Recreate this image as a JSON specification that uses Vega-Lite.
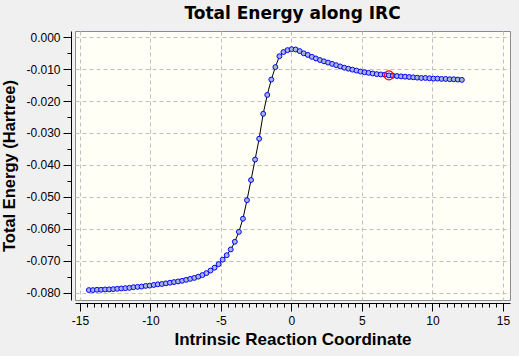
{
  "$schema": "https://vega.github.io/schema/vega-lite/v6.json",
  "width": 435,
  "height": 269,
  "autosize": {"type": "none"},
  "padding": {"left": 75, "top": 31, "right": 9, "bottom": 56},
  "background": "#f0f0f0",
  "title": {"text": "Total Energy along IRC", "font": "DejaVu Sans", "fontSize": 17, "fontWeight": "bold", "color": "#000000", "anchor": "middle", "baseline": "alphabetic", "offset": 12, "dy": 17},
  "config": {"view": {"fill": "#fffff6", "stroke": "#8a8a96", "strokeWidth": 1}},
  "data": {"values": [
    {"irc": -14.365, "energy": -0.0791},
    {"irc": -14.078, "energy": -0.0791},
    {"irc": -13.79, "energy": -0.0790},
    {"irc": -13.503, "energy": -0.0790},
    {"irc": -13.215, "energy": -0.0789},
    {"irc": -12.928, "energy": -0.0789},
    {"irc": -12.64, "energy": -0.0788},
    {"irc": -12.353, "energy": -0.0787},
    {"irc": -12.065, "energy": -0.0786},
    {"irc": -11.778, "energy": -0.0785},
    {"irc": -11.49, "energy": -0.0784},
    {"irc": -11.203, "energy": -0.0782},
    {"irc": -10.915, "energy": -0.0781},
    {"irc": -10.628, "energy": -0.0780},
    {"irc": -10.34, "energy": -0.0778},
    {"irc": -10.053, "energy": -0.0777},
    {"irc": -9.765, "energy": -0.0775},
    {"irc": -9.478, "energy": -0.0773},
    {"irc": -9.19, "energy": -0.0772},
    {"irc": -8.903, "energy": -0.0770},
    {"irc": -8.615, "energy": -0.0768},
    {"irc": -8.328, "energy": -0.0766},
    {"irc": -8.04, "energy": -0.0764},
    {"irc": -7.753, "energy": -0.0762},
    {"irc": -7.465, "energy": -0.0759},
    {"irc": -7.178, "energy": -0.0756},
    {"irc": -6.89, "energy": -0.0753},
    {"irc": -6.603, "energy": -0.0749},
    {"irc": -6.315, "energy": -0.0744},
    {"irc": -6.028, "energy": -0.0738},
    {"irc": -5.74, "energy": -0.0730},
    {"irc": -5.453, "energy": -0.0721},
    {"irc": -5.165, "energy": -0.0710},
    {"irc": -4.878, "energy": -0.0696},
    {"irc": -4.59, "energy": -0.0682},
    {"irc": -4.303, "energy": -0.0664},
    {"irc": -4.015, "energy": -0.0640},
    {"irc": -3.728, "energy": -0.0609},
    {"irc": -3.44, "energy": -0.0568},
    {"irc": -3.153, "energy": -0.0510},
    {"irc": -2.865, "energy": -0.0447},
    {"irc": -2.578, "energy": -0.0383},
    {"irc": -2.29, "energy": -0.0318},
    {"irc": -2.003, "energy": -0.0240},
    {"irc": -1.715, "energy": -0.0181},
    {"irc": -1.428, "energy": -0.0133},
    {"irc": -1.14, "energy": -0.0094},
    {"irc": -0.853, "energy": -0.0060},
    {"irc": -0.565, "energy": -0.0047},
    {"irc": -0.278, "energy": -0.0041},
    {"irc": 0.01, "energy": -0.0038},
    {"irc": 0.298, "energy": -0.0039},
    {"irc": 0.585, "energy": -0.0044},
    {"irc": 0.873, "energy": -0.0051},
    {"irc": 1.16, "energy": -0.0056},
    {"irc": 1.448, "energy": -0.0062},
    {"irc": 1.735, "energy": -0.0067},
    {"irc": 2.023, "energy": -0.0072},
    {"irc": 2.31, "energy": -0.0076},
    {"irc": 2.598, "energy": -0.0080},
    {"irc": 2.885, "energy": -0.0084},
    {"irc": 3.173, "energy": -0.0088},
    {"irc": 3.46, "energy": -0.0092},
    {"irc": 3.748, "energy": -0.0096},
    {"irc": 4.035, "energy": -0.0099},
    {"irc": 4.323, "energy": -0.0102},
    {"irc": 4.61, "energy": -0.0105},
    {"irc": 4.898, "energy": -0.0108},
    {"irc": 5.185, "energy": -0.0110},
    {"irc": 5.473, "energy": -0.0112},
    {"irc": 5.76, "energy": -0.0114},
    {"irc": 6.048, "energy": -0.0116},
    {"irc": 6.335, "energy": -0.0117},
    {"irc": 6.623, "energy": -0.0118},
    {"irc": 6.91, "energy": -0.0120, "current": true},
    {"irc": 7.198, "energy": -0.0121},
    {"irc": 7.485, "energy": -0.0122},
    {"irc": 7.773, "energy": -0.0123},
    {"irc": 8.06, "energy": -0.0124},
    {"irc": 8.348, "energy": -0.0125},
    {"irc": 8.635, "energy": -0.0126},
    {"irc": 8.923, "energy": -0.0127},
    {"irc": 9.21, "energy": -0.0128},
    {"irc": 9.498, "energy": -0.0128},
    {"irc": 9.785, "energy": -0.0129},
    {"irc": 10.073, "energy": -0.0130},
    {"irc": 10.36, "energy": -0.0130},
    {"irc": 10.648, "energy": -0.0131},
    {"irc": 10.935, "energy": -0.0131},
    {"irc": 11.223, "energy": -0.0132},
    {"irc": 11.51, "energy": -0.0132},
    {"irc": 11.798, "energy": -0.0133},
    {"irc": 12.085, "energy": -0.0134}
  ]},
  "encoding": {
    "x": {
      "field": "irc", "type": "quantitative",
      "scale": {"domain": [-15.35, 15.5], "nice": false, "zero": false},
      "axis": {
        "title": "Intrinsic Reaction Coordinate",
        "values": [-15,-14.5,-14,-13.5,-13,-12.5,-12,-11.5,-11,-10.5,-10,-9.5,-9,-8.5,-8,-7.5,-7,-6.5,-6,-5.5,-5,-4.5,-4,-3.5,-3,-2.5,-2,-1.5,-1,-0.5,0,0.5,1,1.5,2,2.5,3,3.5,4,4.5,5,5.5,6,6.5,7,7.5,8,8.5,9,9.5,10,10.5,11,11.5,12,12.5,13,13.5,14,14.5,15],
        "offset": 3,
        "labelExpr": "datum.value % 5 === 0 ? (datum.value < 0 ? '-' : '') + abs(datum.value) : ''",
        "tickSize": {"condition": {"test": "datum.value % 5 === 0", "value": 8}, "value": 4},
        "gridOpacity": {"condition": {"test": "datum.value % 5 === 0", "value": 1}, "value": 0},
        "gridColor": "#c0c0c0", "gridDash": [4, 3], "gridWidth": 1,
        "tickColor": "#000000", "domainColor": "#000000",
        "labelFont": "Liberation Sans", "labelFontSize": 12, "labelColor": "#000000", "labelPadding": 4,
        "labelOverlap": false, "labelFlush": false, "labelBound": false,
        "titleFont": "Liberation Sans", "titleFontSize": 17, "titleFontWeight": "bold", "titleColor": "#000000", "titlePadding": 5
      }
    },
    "y": {
      "field": "energy", "type": "quantitative",
      "scale": {"domain": [-0.0822, 0.00188], "nice": false, "zero": false},
      "axis": {
        "title": "Total Energy (Hartree)",
        "values": [0,-0.005,-0.01,-0.015,-0.02,-0.025,-0.03,-0.035,-0.04,-0.045,-0.05,-0.055,-0.06,-0.065,-0.07,-0.075,-0.08],
        "offset": 4,
        "labelExpr": "abs(round(datum.value*1000)) % 10 === 0 ? (datum.value < -0.0001 ? '-' : '') + format(abs(datum.value), '.3f') : ''",
        "tickSize": {"condition": {"test": "abs(round(datum.value*1000)) % 10 === 0", "value": 8}, "value": 4},
        "gridOpacity": {"condition": {"test": "abs(round(datum.value*1000)) % 10 === 0", "value": 1}, "value": 0},
        "gridColor": "#c0c0c0", "gridDash": [4, 3], "gridWidth": 1,
        "tickColor": "#000000", "domainColor": "#000000",
        "labelFont": "Liberation Sans", "labelFontSize": 12, "labelColor": "#000000", "labelPadding": 3,
        "labelOverlap": false, "labelFlush": false, "labelBound": false,
        "titleFont": "Liberation Sans", "titleFontSize": 16.5, "titleFontWeight": "bold", "titleColor": "#000000", "titlePadding": 8
      }
    }
  },
  "layer": [
    {"mark": {"type": "line", "color": "#000000", "strokeWidth": 1}},
    {"mark": {"type": "circle", "color": "#aab4d4", "opacity": 1, "stroke": "#0000ff", "strokeWidth": 1, "size": 24}},
    {"transform": [{"filter": "datum.current === true"}], "mark": {"type": "point", "shape": "circle", "filled": false, "color": "#ff0000", "opacity": 1, "strokeWidth": 1.2, "size": 80}}
  ]
}
